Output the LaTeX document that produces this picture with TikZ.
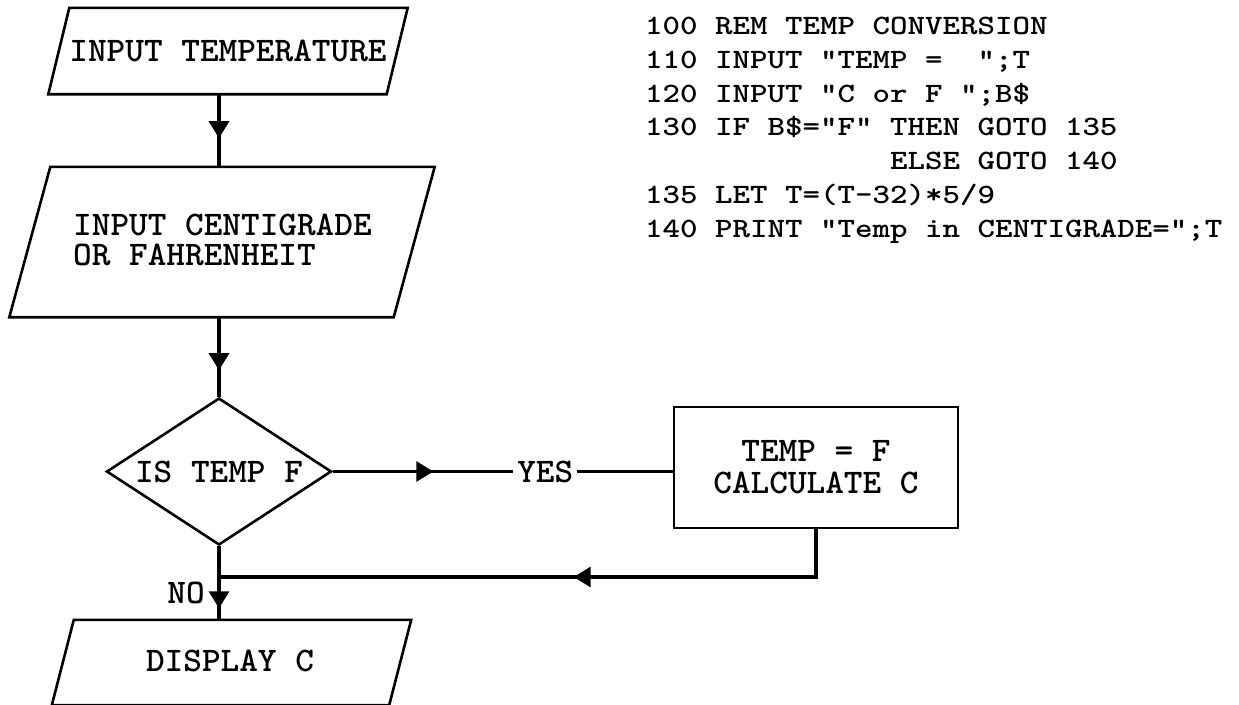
\documentclass[tikz,border=0pt]{standalone}
\usepackage{fontspec}
\newfontfamily\flowfont{lmmonolt10-bold.otf}[FakeStretch=1.03]
\newfontfamily\codefont{lmmonolt10-bold.otf}[FakeStretch=1.19]
\usetikzlibrary{arrows.meta,decorations.markings,shapes.geometric}
\tikzset{
  box/.style={draw=none, inner sep=0pt},
  outline/.style={draw=black, line width=2.6pt, line join=miter},
  flow/.style={draw=black, line width=3.2pt},
  midarrow/.style={postaction={decorate}, decoration={markings,
     mark=at position #1 with {\arrow{Triangle[length=17pt,width=20pt]}}}},
  ftext/.style={font=\flowfont\fontsize{34.5}{24.5}\selectfont},
  fline/.style={font=\flowfont\fontsize{34.5}{24.5}\selectfont, inner sep=0pt, anchor=base west},
  ctext/.style={font=\codefont\fontsize{28}{30}\selectfont, inner sep=0pt, anchor=base west},
}
\begin{document}
\begin{tikzpicture}[x=1pt,y=-1pt]
\useasboundingbox[fill=white] (0,0) rectangle (1239,704);

% parallelogram 1
\node[box, ftext, minimum width=338pt, minimum height=86pt] (p1) at (228,51) {INPUT TEMPERATURE};
\draw[outline] ([xshift=10.5pt]p1.north west) -- ([xshift=10.5pt]p1.north east)
   -- ([xshift=-10.5pt]p1.south east) -- ([xshift=-10.5pt]p1.south west) -- cycle;

% parallelogram 2
\node[box, minimum width=384pt, minimum height=150pt] (p2) at (222,242) {};
\draw[outline] ([xshift=20.5pt]p2.north west) -- ([xshift=20.5pt]p2.north east)
   -- ([xshift=-20.5pt]p2.south east) -- ([xshift=-20.5pt]p2.south west) -- cycle;
\node[fline] (p2a) at (73,235) {INPUT CENTIGRADE};
\node[fline] (p2b) at (73,265) {OR FAHRENHEIT};

% decision
\node[diamond, outline, ftext, inner sep=0pt, aspect=1.53, minimum width=225pt, minimum height=147pt] (d) at (219,471.5) {IS TEMP F};

% process
\node[rectangle, outline, inner sep=0pt, align=center, font=\flowfont\fontsize{34.5}{32}\selectfont,
      minimum width=284pt, minimum height=121pt] (r) at (816,467.5) {TEMP = F\\CALCULATE C};

% display parallelogram
\node[box, ftext, minimum width=337pt, minimum height=85pt] (p3) at (230,661) {DISPLAY C};
\draw[outline] ([xshift=12.5pt,yshift=-1.5pt]p3.north west) -- ([xshift=12.5pt,yshift=-1.5pt]p3.north east)
   -- ([xshift=-9.5pt,yshift=-1.5pt]p3.south east) -- ([xshift=-9.5pt,yshift=-1.5pt]p3.south west) -- cycle;

% junction
\coordinate (j) at (219,577);

% connectors
\draw[flow, midarrow=44pt] (p1.south -| d.north) -- (p2.north -| d.north);
\draw[flow, midarrow=53pt] (p2.south -| d.north) -- (d.north);
\draw[flow, midarrow=62pt] (d.south) -- ([yshift=-1.5pt]p3.north -| d.south);
\draw[flow, midarrow=100.5pt] (d.east) -- node[pos=0.625, fill=white, inner xsep=4pt, inner ysep=2pt, ftext] (yes) {YES} (d.east -| r.west);
\draw[flow, midarrow=290pt] (r.south) |- (j);

\node[ftext, inner sep=0pt] (no) at (186,593) {NO};

% BASIC listing
\node[ctext] (c1) at (645,34.8)  {100 REM TEMP CONVERSION};
\node[ctext] (c2) at (645,68.5)  {110 INPUT "TEMP =\ \ ";T};
\node[ctext] (c3) at (645,102.2) {120 INPUT "C or F ";B\$};
\node[ctext] (c4) at (645,135.9) {130 IF B\$="F" THEN GOTO 135};
\node[ctext] (c5) at (890,169.6) {ELSE GOTO 140};
\node[ctext] (c6) at (645,203.3) {135 LET T=(T-32)*5/9};
\node[ctext] (c7) at (645,237.0) {140 PRINT "Temp in CENTIGRADE=";T};
\end{tikzpicture}
\end{document}
